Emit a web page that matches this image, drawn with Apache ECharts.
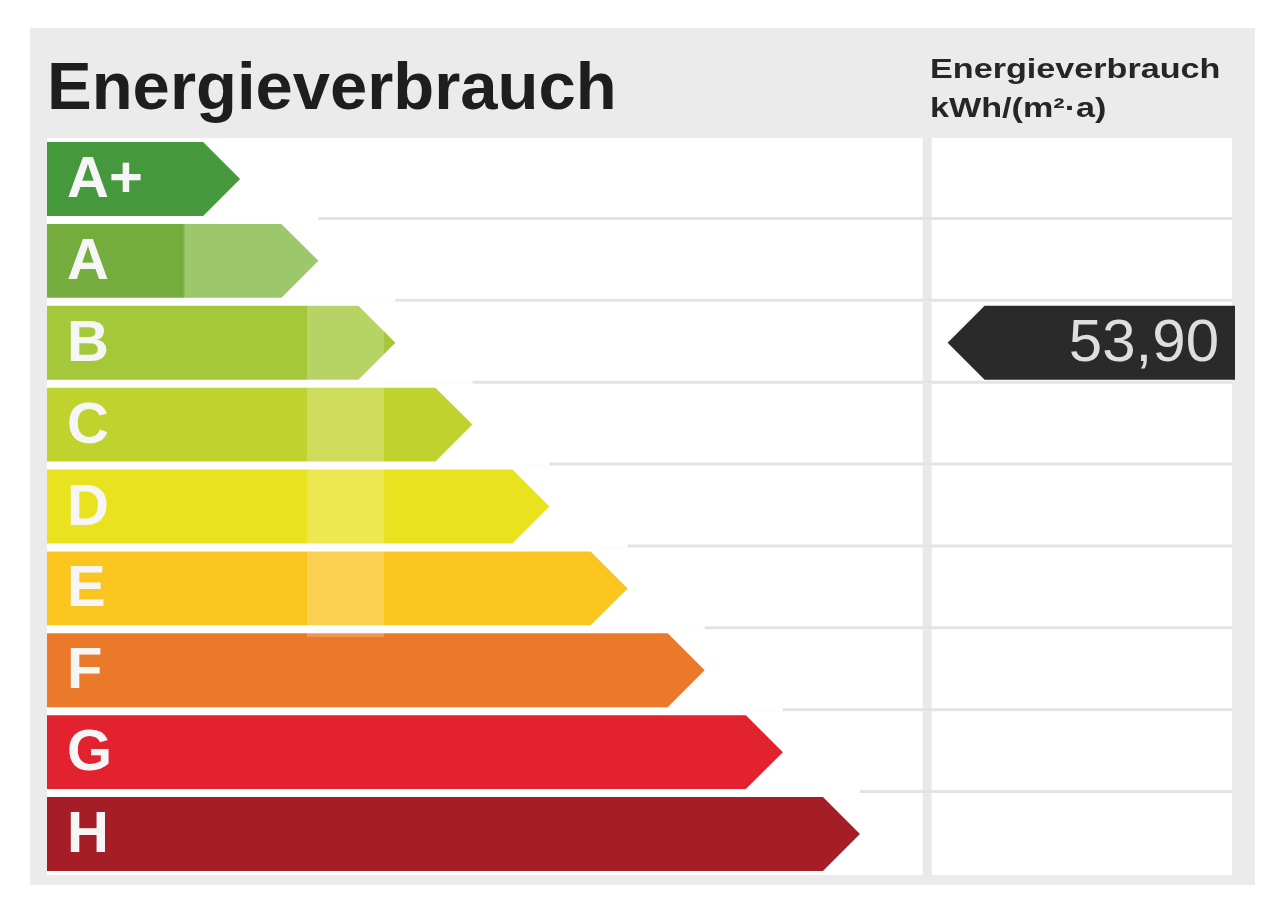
<!DOCTYPE html>
<html>
<head>
<meta charset="utf-8">
<script src="https://cdn.jsdelivr.net/npm/echarts@6/dist/echarts.min.js"></script>
<style>
html,body{margin:0;padding:0;background:#fff;}
#chart{width:1287px;height:900px;}
</style>
</head>
<body>
<div id="chart"></div>
<script>
// ---- data ----
const classes = ['A+', 'A', 'B', 'C', 'D', 'E', 'F', 'G', 'H'];
// arrow tip position of each class bar (0-100 scale of the label width)
const arrowEnds = [16.3, 22.9, 29.4, 35.9, 42.4, 49.0, 55.5, 62.1, 68.6];
const classColors = ['#45993c', '#74ad3e', '#a5c73a', '#c0d22e', '#e9e21f', '#fbc520', '#ea7a2a', '#e3222f', '#a51d27'];
const titleText = 'Energieverbrauch';
const headerLines = ['Energieverbrauch', 'kWh/(m²·a)'];
const indicatorClass = 'B';
const indicatorValue = '53,90';
const indicatorStart = 76.0;

// ---- layout ----
const FONT = '"Liberation Sans", Arial, sans-serif';
const columnSplit = 73.9;   // vertical divider of the right column (x-scale units)
const barGap = 8;
const headW = 37;

const chart = echarts.init(document.getElementById('chart'), null, {renderer: 'canvas'});

function rowGeom(api, i) {
  const yc = api.coord([0, i])[1];
  const band = api.size([0, 1])[1];
  return {yc, band};
}

const option = {
  backgroundColor: '#ffffff',
  animation: false,
  grid: {left: 47, right: 55, top: 138, bottom: 25},
  xAxis: {type: 'value', min: 0, max: 100, show: false},
  yAxis: {type: 'category', data: classes, inverse: true, show: false},
  graphic: [
    {type: 'rect', z: -10, shape: {x: 30, y: 28, width: 1225, height: 857}, style: {fill: '#ebebeb'}},
    {type: 'text', x: 47, y: 91, style: {text: titleText, font: 'bold 67px ' + FONT, fill: '#1e1e1e', verticalAlign: 'middle'}},
    {type: 'text', x: 930, y: 70, scaleX: 1.22, style: {text: headerLines[0], font: 'bold 28px ' + FONT, fill: '#262626', verticalAlign: 'middle'}},
    {type: 'text', x: 930, y: 109, scaleX: 1.22, style: {text: headerLines[1], font: 'bold 28px ' + FONT, fill: '#262626', verticalAlign: 'middle'}},
    {type: 'rect', z: 50, shape: {x: 307, y: 305, width: 77, height: 332}, style: {fill: 'rgba(255,255,255,0.22)'}}
  ],
  series: [
    {
      type: 'custom',
      name: 'rows',
      silent: true,
      z: 1,
      data: classes.map((c, i) => [0, i]),
      renderItem: function (params, api) {
        const i = api.value(1);
        const g = rowGeom(api, i);
        const cs = params.coordSys;
        const children = [
          {type: 'rect', shape: {x: cs.x, y: g.yc - g.band / 2, width: cs.width, height: g.band}, style: {fill: '#ffffff'}},
          {type: 'rect', shape: {x: api.coord([columnSplit, i])[0], y: g.yc - g.band / 2, width: 9, height: g.band}, style: {fill: '#e9e9e9'}}
        ];
        if (i < classes.length - 1) {
          const sx = api.coord([arrowEnds[i + 1], i])[0];
          children.push({type: 'rect', shape: {x: sx, y: g.yc + g.band / 2 - 3, width: cs.x + cs.width - sx, height: 6}, style: {fill: '#e3e3e3'}});
        }
        return {type: 'group', children};
      }
    },
    {
      type: 'custom',
      name: 'classes',
      z: 5,
      data: arrowEnds.map((v, i) => [v, i]),
      renderItem: function (params, api) {
        const v = api.value(0), i = api.value(1);
        const g = rowGeom(api, i);
        const left = api.coord([0, i])[0];
        const tip = api.coord([v, i])[0];
        const half = (g.band - barGap) / 2;
        let fill = classColors[i];
        if (i === 1) {
          fill = new echarts.graphic.LinearGradient(0, 0, 1, 0, [
            {offset: 0, color: '#74ad3e'}, {offset: 0.5, color: '#74ad3e'},
            {offset: 0.51, color: '#9cc76a'}, {offset: 1, color: '#9cc76a'}
          ]);
        }
        return {
          type: 'group',
          children: [
            {type: 'polygon', shape: {points: [[left, g.yc - half], [tip - headW, g.yc - half], [tip, g.yc], [tip - headW, g.yc + half], [left, g.yc + half]]}, style: {fill: fill}},
            {type: 'text', style: {x: left + 20, y: g.yc + 2, text: classes[i], font: 'bold 58px ' + FONT, fill: '#f6f6f6', verticalAlign: 'middle'}}
          ]
        };
      }
    },
    {
      type: 'custom',
      name: 'indicator',
      z: 6,
      data: [[indicatorStart, classes.indexOf(indicatorClass), indicatorValue]],
      renderItem: function (params, api) {
        const i = api.value(1);
        const g = rowGeom(api, i);
        const cs = params.coordSys;
        const sx = api.coord([api.value(0), i])[0];
        const right = cs.x + cs.width + 3;
        const half = (g.band - barGap) / 2;
        return {
          type: 'group',
          children: [
            {type: 'polygon', shape: {points: [[sx, g.yc], [sx + headW, g.yc - half], [right, g.yc - half], [right, g.yc + half], [sx + headW, g.yc + half]]}, style: {fill: '#2a2a2a'}},
            {type: 'text', style: {x: right - 16, y: g.yc + 2, text: indicatorValue, font: '60px ' + FONT, fill: '#dedede', align: 'right', verticalAlign: 'middle'}}
          ]
        };
      }
    }
  ]
};
chart.setOption(option);
</script>
</body>
</html>
